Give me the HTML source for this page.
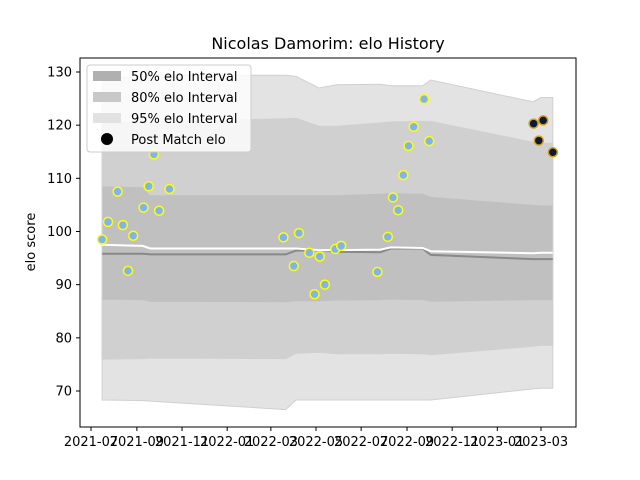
<!DOCTYPE html>
<html><head><meta charset="utf-8"><style>
body{margin:0;background:#fff}
svg{display:block;font-family:"DejaVu Sans","Liberation Sans",sans-serif}
</style></head><body>
<svg id="chart" width="640" height="480" viewBox="0 0 640 480">
<rect width="640" height="480" fill="#fff"/>
<text x="328" y="49" text-anchor="middle" font-size="16" fill="#000">Nicolas Damorim: elo History</text>
<g id="bands"></g><g id="lines"></g><g id="pts"></g>
<rect x="80" y="58" width="496" height="369" fill="none" stroke="#000" stroke-width="1"/>
<g id="xaxis"></g><g id="yaxis"></g>
<text transform="translate(35,242) rotate(-90)" text-anchor="middle" font-size="13">elo score</text>
<g>
<rect x="87" y="65" width="164" height="87" rx="3" fill="#fff" fill-opacity="0.8" stroke="#ccc"/>
<rect x="93" y="71" width="28" height="10" fill="#b0b0b0"/>
<text x="131" y="81" font-size="13">50% elo Interval</text>
<rect x="93" y="92" width="28" height="10" fill="#c8c8c8"/>
<text x="131" y="102" font-size="13">80% elo Interval</text>
<rect x="93" y="113" width="28" height="10" fill="#e2e2e2"/>
<text x="131" y="123" font-size="13">95% elo Interval</text>
<circle cx="107" cy="139" r="6" fill="#000"/>
<text x="131" y="144" font-size="13">Post Match elo</text>
</g>
</svg>
<script>
const knotDates=["2021-07-16","2021-09-09","2021-09-19","2022-03-21","2022-04-04","2022-05-05","2022-05-29","2022-07-27","2022-08-10","2022-09-22","2022-10-03","2023-02-18","2023-03-01","2023-03-17"];
const upper95=[128.9,129.1,129.4,129.4,129.2,127.0,127.6,127.7,127.4,127.4,128.5,124.4,125.2,125.2];
const upper80=[120.4,120.5,120.6,121.2,121.3,119.8,119.8,120.4,120.6,120.7,120.7,116.8,116.6,116.6];
const upper50=[108.6,108.4,106.9,106.9,106.9,106.9,106.9,107.2,107.3,107.2,106.6,105.1,105.0,105.0];
const lower50=[87.1,87.0,86.7,86.6,86.8,86.8,86.9,87.0,87.1,87.0,86.7,87.0,87.0,87.0];
const lower80=[76.0,76.1,76.2,76.1,77.1,77.3,77.0,77.0,77.1,77.0,76.8,78.4,78.6,78.6];
const lower95=[68.3,68.2,68.1,66.5,68.3,68.3,68.3,68.3,68.3,68.3,68.3,70.4,70.5,70.5];
const meanLine=[97.5,97.3,96.8,96.8,96.8,96.5,96.5,96.6,97.0,96.9,96.3,95.9,96.0,96.0];
const medianLine=[95.8,95.8,95.7,95.7,96.4,96.5,96.2,96.1,96.8,96.8,95.6,94.8,94.8,94.8];
const matchDates=["2021-07-16","2021-07-24","2021-08-06","2021-08-13","2021-08-20","2021-08-27","2021-09-10","2021-09-17","2021-09-24","2021-10-01","2021-10-15","2022-03-18","2022-04-01","2022-04-08","2022-04-22","2022-04-29","2022-05-06","2022-05-13","2022-05-27","2022-06-04","2022-07-23","2022-08-06","2022-08-13","2022-08-20","2022-08-27","2022-09-03","2022-09-10","2022-09-24","2022-10-01"];
const matchElo=[98.5,101.8,107.5,101.2,92.6,99.2,104.5,108.5,114.5,103.9,108.0,98.9,93.5,99.7,96.0,88.2,95.3,90.0,96.7,97.3,92.4,99.0,106.4,104.0,110.6,116.1,119.7,124.9,117.0];
const recentDates=["2023-02-19","2023-02-26","2023-03-04","2023-03-17"];
const recentElo=[120.3,117.1,120.9,114.9];
const xTicks=["2021-07","2021-09","2021-11","2022-01","2022-03","2022-05","2022-07","2022-09","2022-11","2023-01","2023-03"];
const yTicks=[70,80,90,100,110,120,130];

const NS="http://www.w3.org/2000/svg";
const t0=Date.UTC(2021,6,1);
function day(s){const p=s.split("-");return (Date.UTC(+p[0],+p[1]-1,p[2]?+p[2]:1)-t0)/864e5;}
function X(s){return 91+day(s)*450/608;}
function Y(v){return 72+(130-v)*319/60;}
function mk(tag,attrs,parent){const e=document.createElementNS(NS,tag);for(const k in attrs)e.setAttribute(k,attrs[k]);parent.appendChild(e);return e;}
const bands=document.getElementById("bands"),lines=document.getElementById("lines"),pts=document.getElementById("pts");
function band(up,lo,fill,name){
  let d="";knotDates.forEach((t,i)=>{d+=(i?"L":"M")+X(t).toFixed(1)+","+Y(up[i]).toFixed(1);});
  for(let i=knotDates.length-1;i>=0;i--)d+="L"+X(knotDates[i]).toFixed(1)+","+Y(lo[i]).toFixed(1);
  const p=mk("path",{d:d+"Z",fill:fill,stroke:"#d0d0d0","stroke-width":"1"},bands);
  
  
}
band(upper95,lower95,"#e3e3e3","band-95");
band(upper80,lower80,"#d0d0d0","band-80");
band(upper50,lower50,"#c0c0c0","band-50");
function line(vals,color,w,name){
  const d=knotDates.map((t,i)=>(i?"L":"M")+X(t).toFixed(1)+","+Y(vals[i]).toFixed(1)).join("");
  const p=mk("path",{d:d,fill:"none",stroke:color,"stroke-width":w},lines);
  
  
}
line(medianLine,"#888",2,"median-line");
line(meanLine,"#fff",2,"mean-line");
matchDates.forEach((t,i)=>{
  const c=mk("circle",{cx:X(t),cy:Y(matchElo[i]),r:4.5,fill:"#80b4f0",stroke:"#ffff00","stroke-width":1.5},pts);
  
  
});
recentDates.forEach((t,i)=>{
  const c=mk("circle",{cx:X(t),cy:Y(recentElo[i]),r:4.5,fill:"#0b1a3a",stroke:"#d4a017","stroke-width":1.5},pts);
  
  
});
const xa=document.getElementById("xaxis"),ya=document.getElementById("yaxis");
xTicks.forEach(t=>{
  const x=X(t);
  const l=mk("line",{x1:x,x2:x,y1:427,y2:431,stroke:"#000"},xa);
  
  
  const tx=mk("text",{x:x,y:446,"text-anchor":"middle","font-size":"13"},xa);
  tx.textContent=t;
  
  
});
yTicks.forEach(v=>{
  const y=Y(v);
  const l=mk("line",{x1:76,x2:80,y1:y,y2:y,stroke:"#000"},ya);
  
  
  const tx=mk("text",{x:72,y:y+4.5,"text-anchor":"end","font-size":"13"},ya);
  tx.textContent=v;
  
  
});
</script>
</body></html>
